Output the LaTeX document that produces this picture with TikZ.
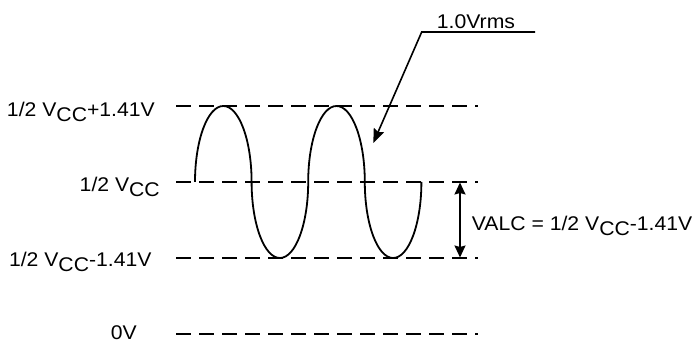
\documentclass[tikz,border=0pt]{standalone}
\usepackage{fontspec}
\setmainfont{Liberation Sans}[FakeStretch=1.07]
\usetikzlibrary{arrows.meta}
\newcommand\vsub[1]{\raisebox{-5pt}{#1}}
\begin{document}
\begin{tikzpicture}[x=1pt,y=1pt,
  lvl/.style={line width=2pt, dash pattern=on 15pt off 8pt},
  wave/.style={line width=1.8pt},
  lead/.style={line width=1.6pt},
  lbl/.style={inner sep=0pt, font=\fontsize{19.8}{22}\selectfont},
]
\useasboundingbox (0,0) rectangle (694,344);
% level lines
\coordinate (t1) at (176,238); \coordinate (t2) at (477.5,238);
\coordinate (m1) at (176,162); \coordinate (m2) at (477.5,162);
\coordinate (b1) at (176,86);  \coordinate (b2) at (477.5,86);
\coordinate (z1) at (176,10);  \coordinate (z2) at (477.5,10);
\draw[lvl] (t1) -- (t2);
\draw[lvl] (m1) -- (m2);
\draw[lvl] (b1) -- (b2);
\draw[lvl] (z1) -- (z2);
% labels
\node[lbl, anchor=base east] (lt) at (155,227.3) {1/2 V\vsub{CC}+1.41V};
\node[lbl, anchor=base east] (lm) at (160,152.3) {1/2 V\vsub{CC}};
\node[lbl, anchor=base east] (lb) at (151.7,77.3) {1/2 V\vsub{CC}-1.41V};
\node[lbl, anchor=base east] (lz) at (137,4) {0V};
% wave
\coordinate (w0) at (195,162);
\draw[wave] (w0)
  arc[start angle=180,end angle=0,x radius=28.3,y radius=76]
  arc[start angle=180,end angle=360,x radius=28.3,y radius=76]
  arc[start angle=180,end angle=0,x radius=28.3,y radius=76]
  arc[start angle=180,end angle=360,x radius=28.3,y radius=76];
% rms leader
\coordinate (ke) at (535,312);
\coordinate (k) at (421.7,312);
\coordinate (kt) at (373.3,201);
\draw[lead, -{Stealth[length=14pt,width=11pt,inset=2pt]}] (ke) -- (k) -- (kt);
\node[lbl, anchor=base west] (rms) at (436.7,315) {1.0Vrms};
% VALC arrow
\coordinate (va) at (460,161.5);
\coordinate (vb) at (460,86.5);
\draw[lead, {Stealth[length=12pt,width=11pt,inset=1.5pt]}-{Stealth[length=12pt,width=11pt,inset=1.5pt]}] (va) -- (vb);
\node[lbl, anchor=base west] (valc) at (471.7,113) {VALC = 1/2 V\vsub{CC}-1.41V};
\end{tikzpicture}
\end{document}
